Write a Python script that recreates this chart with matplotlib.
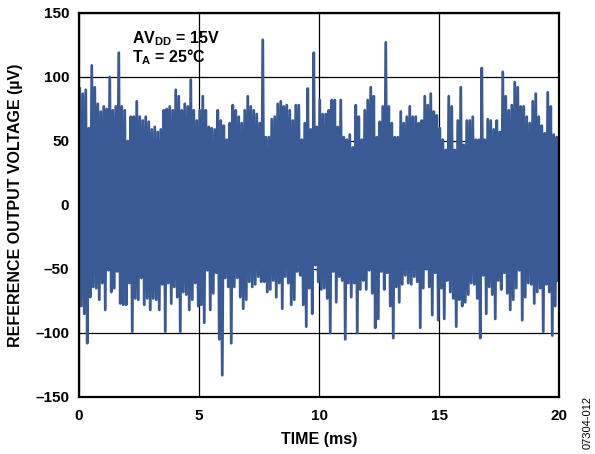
import numpy as np
import matplotlib
matplotlib.use("Agg")
import matplotlib.pyplot as plt

plt.rcParams['font.family'] = ['Liberation Sans', 'DejaVu Sans']
plt.rcParams['mathtext.fontset'] = 'custom'
plt.rcParams['mathtext.rm'] = 'Liberation Sans'
plt.rcParams['mathtext.bf'] = 'Liberation Sans:bold'

# Upper peaks of the noise trace (µV), read across 0-20 ms
upper = [91, 87, 90, 60, 109, 92, 79, 73, 77, 75, 100, 74, 77, 119, 77, 74, 50, 69, 69, 81,
         69, 66, 69, 65, 59, 61, 57, 59, 74, 75, 77, 74, 90, 85, 74, 79, 77, 98, 74, 66,
         74, 85, 74, 61, 60, 59, 74, 66, 62, 51, 64, 78, 74, 69, 64, 74, 85, 77, 74, 71,
         64, 129, 53, 53, 67, 69, 79, 81, 77, 78, 74, 66, 78, 78, 51, 64, 91, 59, 119, 61,
         82, 71, 71, 74, 82, 82, 61, 82, 53, 51, 55, 45, 78, 69, 51, 74, 82, 92, 85, 53,
         65, 77, 127, 77, 64, 53, 53, 73, 64, 69, 77, 69, 69, 64, 66, 85, 78, 87, 73, 70,
         60, 51, 43, 85, 77, 43, 66, 92, 47, 66, 66, 69, 51, 51, 107, 51, 67, 66, 59, 66,
         57, 104, 85, 74, 78, 96, 92, 77, 77, 69, 64, 81, 87, 69, 62, 56, 88, 77, 55, 53]

# Lower troughs of the noise trace (µV)
lower = [-79, -85, -108, -72, -64, -65, -74, -61, -82, -51, -68, -65, -52, -77, -78, -78, -61, -99, -73, -74,
         -57, -78, -73, -82, -73, -74, -82, -62, -99, -61, -77, -64, -72, -99, -68, -70, -82, -74, -61, -79,
         -78, -92, -51, -82, -69, -53, -105, -133, -57, -64, -108, -64, -57, -72, -81, -74, -60, -64, -62, -56,
         -60, -60, -68, -66, -59, -72, -61, -81, -56, -61, -78, -74, -52, -55, -78, -95, -65, -85, -47, -60,
         -66, -65, -73, -100, -52, -76, -56, -59, -105, -61, -72, -61, -100, -66, -59, -66, -51, -69, -96, -89,
         -52, -66, -53, -79, -104, -64, -76, -62, -55, -61, -62, -56, -60, -96, -65, -50, -64, -86, -53, -90,
         -65, -89, -59, -68, -73, -95, -74, -79, -76, -70, -61, -62, -73, -104, -55, -85, -64, -70, -89, -59,
         -66, -53, -69, -82, -74, -65, -51, -90, -72, -61, -62, -77, -68, -65, -99, -62, -68, -102, -79, -59]

t_start, t_end = 0.0, 20.0
xticks = [0, 5, 10, 15, 20]
yticks = [-150, -100, -50, 0, 50, 100, 150]
ytick_labels = ['–150', '–100', '–50', '0', '50', '100', '150']

n = len(upper)
slot = (t_end - t_start) / n
t_up = t_start + slot * (np.arange(n) + 0.25)
t_lo = t_start + slot * (np.arange(n) + 0.75)
t = np.empty(2 * n)
v = np.empty(2 * n)
t[0::2], t[1::2] = t_up, t_lo
v[0::2], v[1::2] = upper, lower

fig = plt.figure(figsize=(5.95, 4.54), dpi=100)
ax = fig.add_axes([0.1328, 0.1256, 0.8067, 0.8458])

ax.plot(t, v, color='#3a5a95', lw=2.0, solid_joinstyle='round', zorder=2)

ax.set_xlim(0, 20)
ax.set_ylim(-150, 150)
ax.set_xticks(xticks)
ax.set_yticks(yticks)
ax.set_yticklabels(ytick_labels)
ax.grid(True, color='black', lw=0.9, zorder=1)
ax.set_axisbelow(True)
ax.tick_params(length=0, labelsize=11)
ax.tick_params(axis='y', pad=7)
ax.tick_params(axis='x', pad=9)
for lab in ax.get_xticklabels() + ax.get_yticklabels():
    lab.set_fontweight('bold')
for s in ax.spines.values():
    s.set_linewidth(1.6)

ax.set_xlabel('TIME (ms)', fontsize=11.5, fontweight='bold', labelpad=6)
ax.set_ylabel('REFERENCE OUTPUT VOLTAGE (µV)', fontsize=11.5, fontweight='bold', labelpad=9)

ax.text(0.110, 0.922, r'$\mathbf{AV_{DD}}$' + ' = 15V', transform=ax.transAxes,
        fontsize=11.5, fontweight='bold', va='baseline', ha='left')
ax.text(0.110, 0.872, r'$\mathbf{T_{A}}$' + ' = 25°C', transform=ax.transAxes,
        fontsize=11.5, fontweight='bold', va='baseline', ha='left')

fig.text(0.988, 0.012, '07304-012', rotation=90, fontsize=8, ha='center', va='bottom')

fig.savefig('out.png', dpi=100)
